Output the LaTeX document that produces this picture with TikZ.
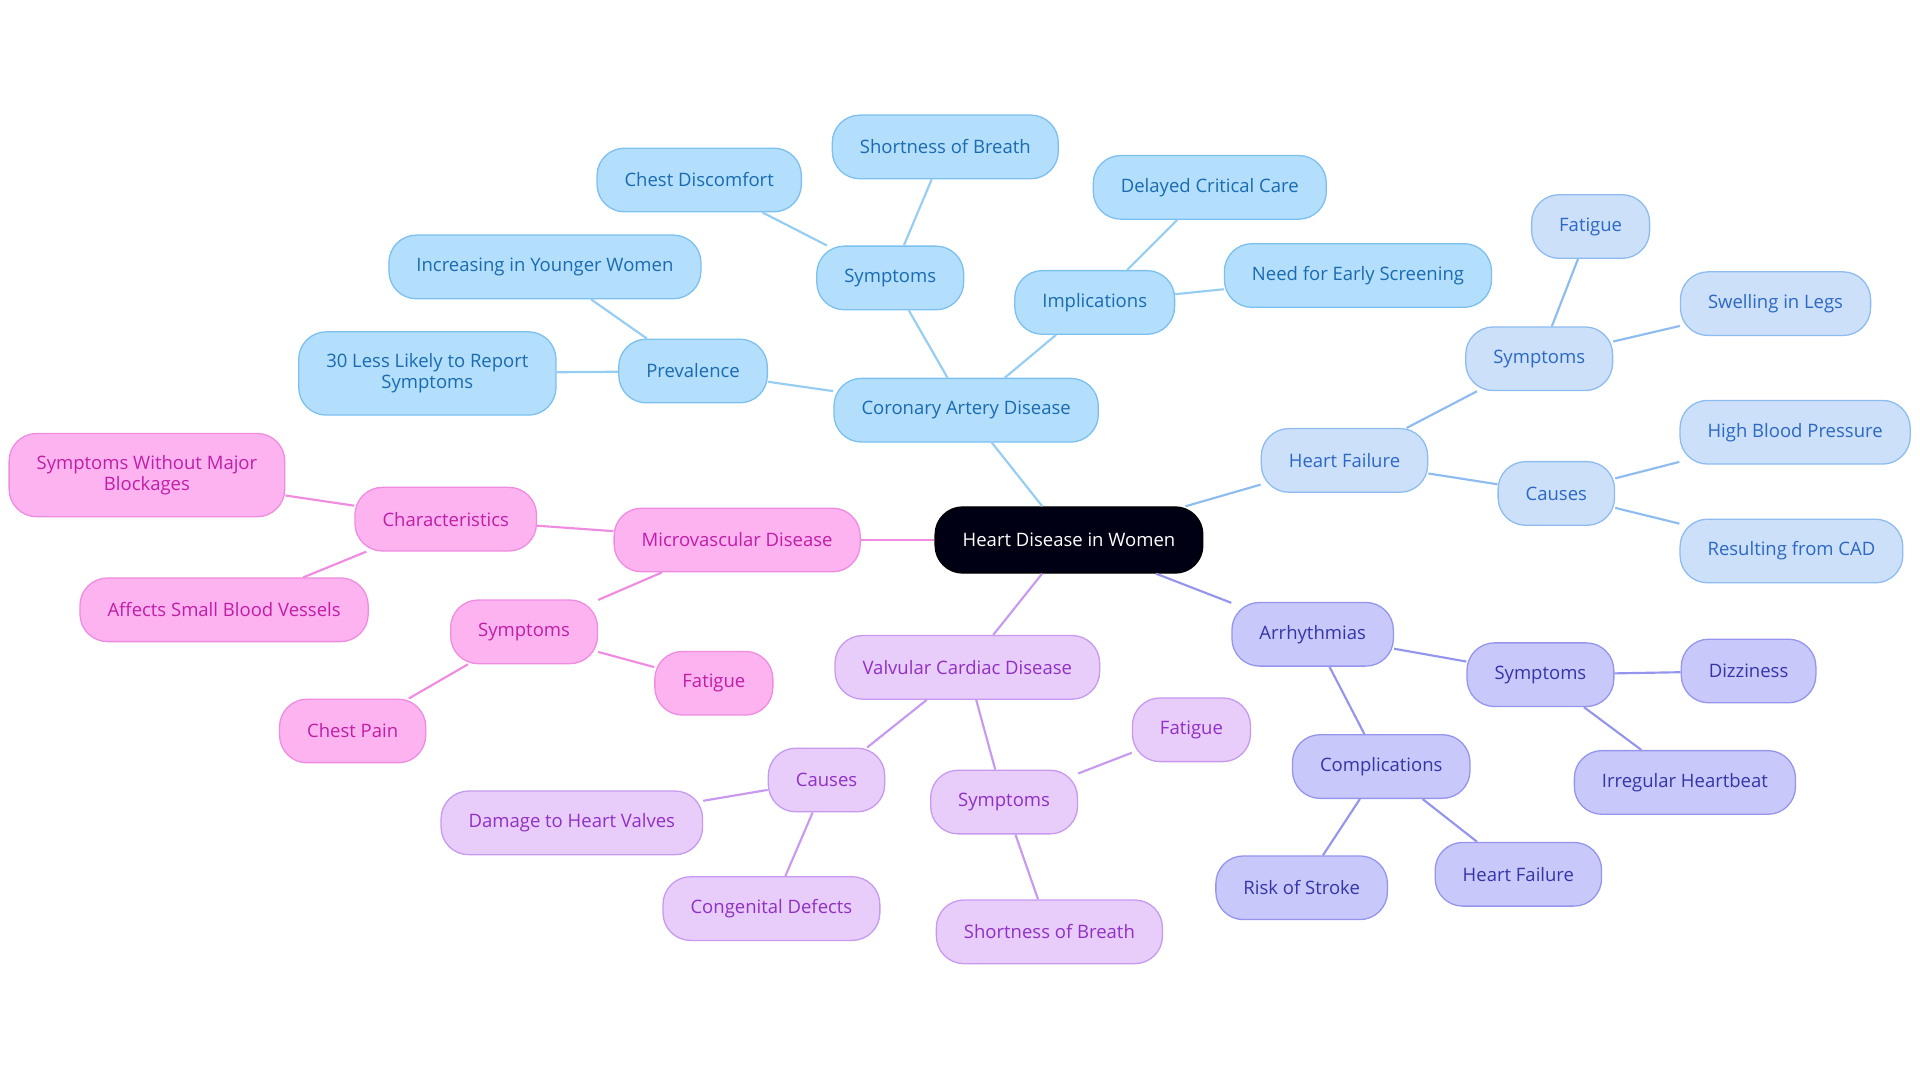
\documentclass[tikz,border=0pt]{standalone}
\usepackage{fontspec}
\setmainfont{Open Sans}
\begin{document}
\begin{tikzpicture}[x=0.02cm,y=-0.02cm,
 base/.style={rounded corners=0.45cm,draw,line width=0.6pt,minimum height=1.04cm,inner xsep=0.45cm,font=\fontsize{8.6}{9.6}\selectfont,align=center},
 cb/.style={base,fill=cbF,draw=cbD,text=cbT}, cl/.style={cbD!80!white,line width=1pt},
 hb/.style={base,fill=hbF,draw=hbD,text=hbT}, hl/.style={hbD,line width=1pt},
 ab/.style={base,fill=abF,draw=abD,text=abT}, al/.style={abD,line width=1pt},
 vb/.style={base,fill=vbF,draw=vbD,text=vbT}, vl/.style={vbD,line width=1pt},
 mb/.style={base,fill=mbF,draw=mbD,text=mbT}, ml/.style={mbD,line width=1pt}]
\definecolor{cbF}{HTML}{B3DEFC}\definecolor{cbD}{HTML}{7CC0F0}\definecolor{cbT}{HTML}{1A6BB0}
\definecolor{hbF}{HTML}{CCE0FA}\definecolor{hbD}{HTML}{8EBCF0}\definecolor{hbT}{HTML}{2C68C4}
\definecolor{abF}{HTML}{C8C8FA}\definecolor{abD}{HTML}{9595EE}\definecolor{abT}{HTML}{3535A8}
\definecolor{vbF}{HTML}{E8CCFA}\definecolor{vbD}{HTML}{C79AF0}\definecolor{vbT}{HTML}{9030C4}
\definecolor{mbF}{HTML}{FDB3F0}\definecolor{mbD}{HTML}{F08CE0}\definecolor{mbT}{HTML}{C01EA6}
\useasboundingbox (0,0) rectangle (1568,884);
\node[base,fill=black!92!blue,draw=black,text=white,minimum height=1.08cm] (r) at (873,441) {Heart Disease in Women};
% CAD
\node[cb] (cad) at (789,335) {Coronary Artery Disease};
\node[cb] (prev) at (566,303) {Prevalence};
\node[cb] (inc) at (445,218) {Increasing in Younger Women};
\node[cb,minimum height=1.36cm] (less) at (349,305) {30 Less Likely to Report\\Symptoms};
\node[cb] (csym) at (727,227) {Symptoms};
\node[cb] (chest) at (571,147) {Chest Discomfort};
\node[cb] (csob) at (772,120) {Shortness of Breath};
\node[cb] (impl) at (894,247) {Implications};
\node[cb] (del) at (988,153) {Delayed Critical Care};
\node[cb] (need) at (1109,225) {Need for Early Screening};
% HF
\node[hb] (hf) at (1098,376) {Heart Failure};
\node[hb] (hsym) at (1257,293) {Symptoms};
\node[hb] (hfat) at (1299,185) {Fatigue};
\node[hb] (swell) at (1450,248) {Swelling in Legs};
\node[hb] (hcau) at (1271,403) {Causes};
\node[hb] (hbp) at (1466,353) {High Blood Pressure};
\node[hb] (res) at (1463,450) {Resulting from CAD};
% Arr
\node[ab] (arr) at (1072,518) {Arrhythmias};
\node[ab] (asym) at (1258,551) {Symptoms};
\node[ab] (diz) at (1428,548) {Dizziness};
\node[ab] (irr) at (1376,639) {Irregular Heartbeat};
\node[ab] (comp) at (1128,626) {Complications};
\node[ab] (stroke) at (1063,725) {Risk of Stroke};
\node[ab] (ahf) at (1240,714) {Heart Failure};
% Valv
\node[vb] (val) at (790,545) {Valvular Cardiac Disease};
\node[vb] (vcau) at (675,637) {Causes};
\node[vb] (dam) at (467,672) {Damage to Heart Valves};
\node[vb] (cong) at (630,742) {Congenital Defects};
\node[vb] (vsym) at (820,655) {Symptoms};
\node[vb] (vfat) at (973,596) {Fatigue};
\node[vb] (vsob) at (857,761) {Shortness of Breath};
% Micro
\node[mb] (mic) at (602,441) {Microvascular Disease};
\node[mb] (char) at (364,424) {Characteristics};
\node[mb,minimum height=1.36cm] (swmb) at (120,388) {Symptoms Without Major\\Blockages};
\node[mb] (aff) at (183,498) {Affects Small Blood Vessels};
\node[mb] (msym) at (428,516) {Symptoms};
\node[mb] (mfat) at (583,558) {Fatigue};
\node[mb] (cp) at (288,597) {Chest Pain};
\begin{scope}[on background layer/.style={}]
\end{scope}
\begin{pgfinterruptboundingbox}\end{pgfinterruptboundingbox}
% edges (drawn behind via order trick: redraw nodes not needed since lines end at borders)
\draw[cl] (r)--(cad); \draw[cl] (cad)--(prev); \draw[cl] (prev)--(inc); \draw[cl] (prev)--(less);
\draw[cl] (cad)--(csym); \draw[cl] (csym)--(chest); \draw[cl] (csym)--(csob);
\draw[cl] (cad)--(impl); \draw[cl] (impl)--(del); \draw[cl] (impl)--(need);
\draw[hl] (r)--(hf); \draw[hl] (hf)--(hsym); \draw[hl] (hsym)--(hfat); \draw[hl] (hsym)--(swell);
\draw[hl] (hf)--(hcau); \draw[hl] (hcau)--(hbp); \draw[hl] (hcau)--(res);
\draw[al] (r)--(arr); \draw[al] (arr)--(asym); \draw[al] (asym)--(diz); \draw[al] (asym)--(irr);
\draw[al] (arr)--(comp); \draw[al] (comp)--(stroke); \draw[al] (comp)--(ahf);
\draw[vl] (r)--(val); \draw[vl] (val)--(vcau); \draw[vl] (vcau)--(dam); \draw[vl] (vcau)--(cong);
\draw[vl] (val)--(vsym); \draw[vl] (vsym)--(vfat); \draw[vl] (vsym)--(vsob);
\draw[ml] (r)--(mic); \draw[ml] (mic)--(char); \draw[ml] (char)--(swmb); \draw[ml] (char)--(aff);
\draw[ml] (mic)--(msym); \draw[ml] (msym)--(mfat); \draw[ml] (msym)--(cp);
\end{tikzpicture}
\end{document}
